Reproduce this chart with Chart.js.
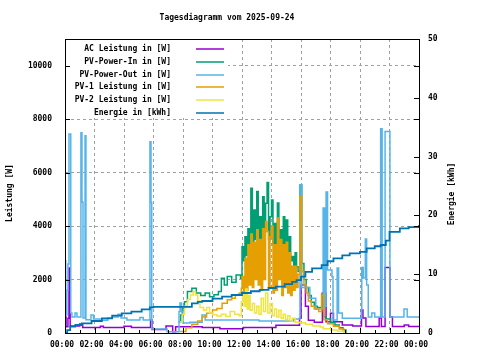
<!DOCTYPE html>
<html>
<head>
<meta charset="utf-8">
<script src="https://cdn.jsdelivr.net/npm/chart.js@4/dist/chart.umd.min.js"></script>
<style>
  body { margin: 0; background: #fff; }
  canvas { display: block; }
</style>
</head>
<body>
<canvas id="chart" width="480" height="360"></canvas>
<script>
const titel = 'Tagesdiagramm vom 2025-09-24';
const titelLinks = 'Leistung [W]';
const titelRechts = 'Energie [kWh]';

const zeitTicks = [0, 2, 4, 6, 8, 10, 12, 14, 16, 18, 20, 22, 24];
const zeitLabels = ['00:00', '02:00', '04:00', '06:00', '08:00', '10:00', '12:00',
  '14:00', '16:00', '18:00', '20:00', '22:00', '00:00'];
const leistungTicks = [0, 2000, 4000, 6000, 8000, 10000];
const energieTicks = [0, 10, 20, 30, 40, 50];

// [Stunde, Wert] - Wert gilt bis zum naechsten Punkt
const acLeistung = [[0, 600], [0.07, 230], [0.2, 550], [0.27, 2430], [0.35, 260], [1.0, 340], [1.2, 210],
  [2.4, 250], [2.6, 210], [4.0, 250], [4.5, 210], [5.8, 490], [5.9, 130], [6.85, 260], [7.3, 50], [7.5, 230],
  [9.3, 210], [10.5, 160], [12.1, 210], [14.3, 290], [15.9, 550], [16.0, 1800], [16.3, 1000], [16.5, 480],
  [16.9, 400], [17.45, 1500], [17.7, 420], [18.0, 740], [18.2, 420], [18.8, 300], [19.5, 260], [20.1, 860],
  [20.2, 560], [20.4, 240], [21.3, 560], [21.45, 240], [21.7, 2450], [22.03, 610], [22.2, 240], [23.0, 300],
  [23.3, 240], [24, 240]];

const pvPowerIn = [[7.7, 420], [7.85, 670], [7.95, 920], [8.1, 1170], [8.3, 1550], [8.6, 1670], [8.9, 1500],
  [9.2, 1400], [9.5, 1500], [9.8, 1360], [10.1, 1430], [10.4, 1550], [10.6, 2050], [10.8, 1800], [11.0, 2110],
  [11.3, 1900], [11.6, 2170], [11.9, 2050], [12.0, 3230], [12.1, 2700], [12.2, 3600], [12.3, 2900], [12.4, 3900],
  [12.5, 3000], [12.6, 5420], [12.7, 3300], [12.8, 4600], [12.9, 3500], [13.0, 5290], [13.1, 3400], [13.2, 4350],
  [13.3, 3200], [13.4, 5100], [13.5, 3800], [13.6, 4850], [13.7, 5630], [13.8, 3500], [13.9, 4350], [14.0, 4980],
  [14.1, 3300], [14.2, 4100], [14.3, 3000], [14.4, 4860], [14.5, 3400], [14.6, 3860], [14.7, 2800], [14.8, 4350],
  [14.9, 3100], [15.0, 4230], [15.1, 2900], [15.2, 3600], [15.3, 2700], [15.4, 2860], [15.5, 2500], [15.6, 3000],
  [15.7, 2480], [15.8, 2300], [15.93, 5540], [16.05, 2600], [16.2, 2000], [16.35, 1700], [16.5, 1400],
  [16.7, 1150], [16.9, 1000], [17.1, 950], [17.4, 1450], [17.55, 600], [17.7, 520], [18.0, 400], [18.3, 300],
  [18.6, 200], [18.85, 110], [19.05, 0]];

const pvPowerOut = [[0, 2700], [0.05, 670], [0.13, 1600], [0.2, 2580], [0.27, 7450], [0.39, 750], [0.47, 600],
  [0.68, 750], [0.81, 600], [1.08, 7490], [1.15, 4900], [1.22, 560], [1.36, 7380], [1.42, 500], [1.76, 670],
  [1.93, 520], [2.37, 480], [2.9, 560], [3.2, 600], [3.6, 700], [3.8, 560], [4.2, 490], [5.08, 580], [5.3, 490],
  [5.76, 7160], [5.83, 4880], [5.88, 150], [6.92, 50], [7.73, 800], [7.8, 1120], [7.9, 800], [8.0, 370],
  [8.47, 400], [9.29, 670], [9.5, 490], [13.15, 450], [15.5, 520], [15.93, 5540], [16.05, 1700], [16.6, 1300],
  [17.0, 900], [17.5, 4680], [17.6, 1000], [17.7, 5280], [17.8, 2360], [18.1, 2100], [18.17, 490], [18.45, 2430],
  [18.55, 750], [18.8, 550], [20.12, 2450], [20.22, 2060], [20.36, 3520], [20.45, 1800], [20.56, 600],
  [20.8, 750], [21.0, 600], [21.4, 7640], [21.5, 600], [21.7, 7540], [22.03, 600], [22.98, 900], [23.2, 600],
  [24, 560]];

const pv1Leistung = [[7.8, 60], [8.2, 200], [8.6, 330], [9.0, 450], [9.3, 600], [9.6, 740], [10.0, 860],
  [10.3, 920], [10.65, 1110], [11.0, 1240], [11.3, 1300], [11.55, 1420], [11.8, 1490], [11.95, 1670], [12.0, 2110],
  [12.1, 1500], [12.2, 2800], [12.3, 1600], [12.4, 3300], [12.5, 1800], [12.6, 3700], [12.7, 1700], [12.8, 3400],
  [12.9, 2000], [13.0, 3860], [13.1, 1800], [13.2, 3500], [13.3, 1600], [13.4, 3900], [13.5, 2000], [13.6, 4170],
  [13.7, 3800], [13.8, 1700], [13.9, 3600], [14.0, 4000], [14.1, 1500], [14.2, 3300], [14.3, 1600], [14.4, 4300],
  [14.5, 2000], [14.6, 3500], [14.7, 1400], [14.8, 3300], [14.9, 1700], [15.0, 3400], [15.1, 1500], [15.2, 3000],
  [15.3, 1400], [15.4, 2500], [15.5, 1600], [15.6, 2500], [15.7, 1700], [15.8, 2200], [15.93, 5100],
  [16.05, 2300], [16.2, 1800], [16.35, 1500], [16.5, 1200], [16.7, 1000], [16.9, 900], [17.2, 800], [17.4, 1420],
  [17.55, 500], [17.8, 350], [18.2, 250], [18.6, 150], [18.9, 50], [19.0, 0]];

const pv2Leistung = [[7.8, 420], [7.95, 700], [8.1, 1000], [8.3, 1250], [8.5, 1420], [8.7, 1550], [8.85, 1420],
  [9.0, 1200], [9.15, 950], [9.4, 850], [9.6, 950], [9.8, 750], [10.0, 680], [10.3, 640], [10.6, 700],
  [10.9, 620], [11.2, 800], [11.5, 700], [11.8, 650], [11.95, 1170], [12.05, 1500], [12.15, 1000], [12.25, 1650],
  [12.35, 900], [12.45, 1400], [12.55, 850], [12.7, 1100], [12.85, 750], [13.0, 1000], [13.15, 700], [13.3, 1300],
  [13.45, 800], [13.6, 1500], [13.75, 750], [13.9, 1100], [14.05, 650], [14.2, 900], [14.35, 600], [14.5, 850],
  [14.65, 550], [14.8, 700], [14.95, 500], [15.1, 650], [15.25, 450], [15.4, 550], [15.6, 400], [15.9, 380],
  [16.3, 330], [16.8, 260], [17.3, 220], [17.5, 160], [18.0, 110], [18.5, 70], [18.9, 30], [19.0, 0]];

const energie = [[0, 0], [0.15, 0.5], [0.35, 1.1], [0.7, 1.36], [1.15, 1.64], [1.8, 2.04], [2.5, 2.5],
  [3.2, 2.95], [3.85, 3.35], [4.5, 3.63], [5.2, 4.03], [5.75, 4.37], [6.0, 4.45], [7.9, 4.45], [8.6, 5.05],
  [9.0, 5.3], [9.3, 5.44], [10.0, 5.85], [10.65, 6.17], [11.3, 6.46], [12.0, 6.8], [12.6, 7.1], [13.2, 7.35],
  [13.8, 7.65], [14.3, 7.9], [14.9, 8.3], [15.4, 8.7], [15.7, 9.0], [16.0, 9.6], [16.3, 10.4], [16.75, 11.0],
  [17.4, 11.56], [17.8, 12.2], [18.2, 12.7], [18.8, 13.2], [19.3, 13.55], [20.0, 13.8], [20.45, 14.4],
  [21.0, 14.75], [21.4, 14.97], [21.75, 15.7], [22.0, 17.2], [22.7, 17.8], [23.3, 18.0], [24, 18.35]];

const schrift = 'bold 8px "DejaVu Sans Mono"';
Chart.defaults.font.family = '"DejaVu Sans Mono"';
Chart.defaults.font.size = 8;
Chart.defaults.font.weight = 'bold';
Chart.defaults.color = '#000';

function punkte(liste) {
  return liste.map(([x, y]) => ({ x: x, y: y }));
}

function linie(label, liste, farbe, achse, order, breite) {
  return {
    label: label,
    data: punkte(liste),
    borderColor: farbe,
    backgroundColor: farbe,
    borderWidth: breite,
    pointRadius: 0,
    stepped: true,
    fill: false,
    yAxisID: achse,
    order: order
  };
}

// Rahmen, Striche nach innen, Legende und Beschriftungen wie bei gnuplot
const rahmen = {
  id: 'rahmen',
  beforeDatasetsDraw(chart) {
    const { ctx, chartArea: a } = chart;
    ctx.save();
    ctx.fillStyle = '#fff';
    ctx.fillRect(a.left + 1, a.top + 1, 162, 78);
    ctx.restore();
  },
  afterDraw(chart) {
    const { ctx, chartArea: a, scales } = chart;
    ctx.save();
    ctx.strokeStyle = '#000';
    ctx.lineWidth = 1;
    ctx.strokeRect(a.left + 0.5, a.top + 0.5, a.right - a.left, a.bottom - a.top);

    ctx.beginPath();
    for (let h = 0; h <= 24; h++) {
      const x = Math.round(scales.x.getPixelForValue(h)) + 0.5;
      const len = h % 2 ? 3 : 5;
      ctx.moveTo(x, a.bottom);
      ctx.lineTo(x, a.bottom - len);
    }
    leistungTicks.forEach(v => {
      const y = Math.round(scales.y.getPixelForValue(v)) + 0.5;
      ctx.moveTo(a.left, y);
      ctx.lineTo(a.left + 5, y);
      ctx.moveTo(a.right, y);
      ctx.lineTo(a.right - 5, y);
    });
    energieTicks.forEach(v => {
      const y = Math.round(scales.y2.getPixelForValue(v)) + 0.5;
      ctx.moveTo(a.right, y);
      ctx.lineTo(a.right - 5, y);
    });
    ctx.stroke();

    ctx.font = schrift;
    ctx.fillStyle = '#000';
    ctx.textBaseline = 'middle';
    chart.data.datasets.forEach((ds, i) => {
      const y = 49 + i * 12.8;
      ctx.textAlign = 'right';
      ctx.fillText(ds.label, 171, y);
      ctx.strokeStyle = ds.borderColor;
      ctx.lineWidth = 1.5;
      ctx.beginPath();
      ctx.moveTo(196, Math.round(y));
      ctx.lineTo(224, Math.round(y));
      ctx.stroke();
    });

    ctx.textAlign = 'center';
    ctx.fillText(titel, 227, 18);

    ctx.translate(10, 193);
    ctx.rotate(-Math.PI / 2);
    ctx.fillText(titelLinks, 0, 0);
    ctx.rotate(Math.PI / 2);
    ctx.translate(442, 1);
    ctx.rotate(-Math.PI / 2);
    ctx.fillText(titelRechts, 0, 0);
    ctx.restore();
  }
};

const gitter = { color: '#a0a0a0', lineWidth: 1, drawTicks: false };

new Chart(document.getElementById('chart'), {
  type: 'line',
  data: {
    datasets: [
      linie('AC Leistung in [W]', acLeistung, '#9400d3', 'y', 5, 1.5),
      linie('PV-Power-In in [W]', pvPowerIn, '#009e73', 'y', 4, 1.5),
      linie('PV-Power-Out in [W]', pvPowerOut, '#56b4e9', 'y', 3, 1.5),
      linie('PV-1 Leistung in [W]', pv1Leistung, '#e69f00', 'y', 2, 1.5),
      linie('PV-2 Leistung in [W]', pv2Leistung, '#f0e442', 'y', 1, 1.5),
      linie('Energie in [kWh]', energie, '#0072b2', 'y2', 0, 1.8)
    ]
  },
  options: {
    responsive: false,
    animation: false,
    layout: { padding: { top: 39, left: 0, right: 0, bottom: 0 } },
    plugins: { legend: { display: false }, tooltip: { enabled: false }, title: { display: false } },
    scales: {
      x: {
        type: 'linear', min: 0, max: 24,
        afterFit: s => { s.height = 27; },
        afterBuildTicks: s => { s.ticks = zeitTicks.map(v => ({ value: v })); },
        ticks: { callback: (v, i) => zeitLabels[i], padding: 7, labelOffset: -3, maxRotation: 0, autoSkip: false },
        grid: gitter,
        border: { display: false, dash: [3, 3] }
      },
      y: {
        position: 'left', min: 0, max: 11000,
        afterFit: s => { s.width = 65; },
        afterBuildTicks: s => { s.ticks = leistungTicks.map(v => ({ value: v })); },
        ticks: { callback: v => String(v), padding: 13 },
        grid: gitter,
        border: { display: false, dash: [3, 3] }
      },
      y2: {
        position: 'right', min: 0, max: 50,
        afterFit: s => { s.width = 61; },
        afterBuildTicks: s => { s.ticks = energieTicks.map(v => ({ value: v })); },
        ticks: { callback: v => String(v), padding: 9 },
        grid: { drawOnChartArea: false, drawTicks: false },
        border: { display: false }
      }
    }
  },
  plugins: [rahmen]
});
</script>
</body>
</html>
